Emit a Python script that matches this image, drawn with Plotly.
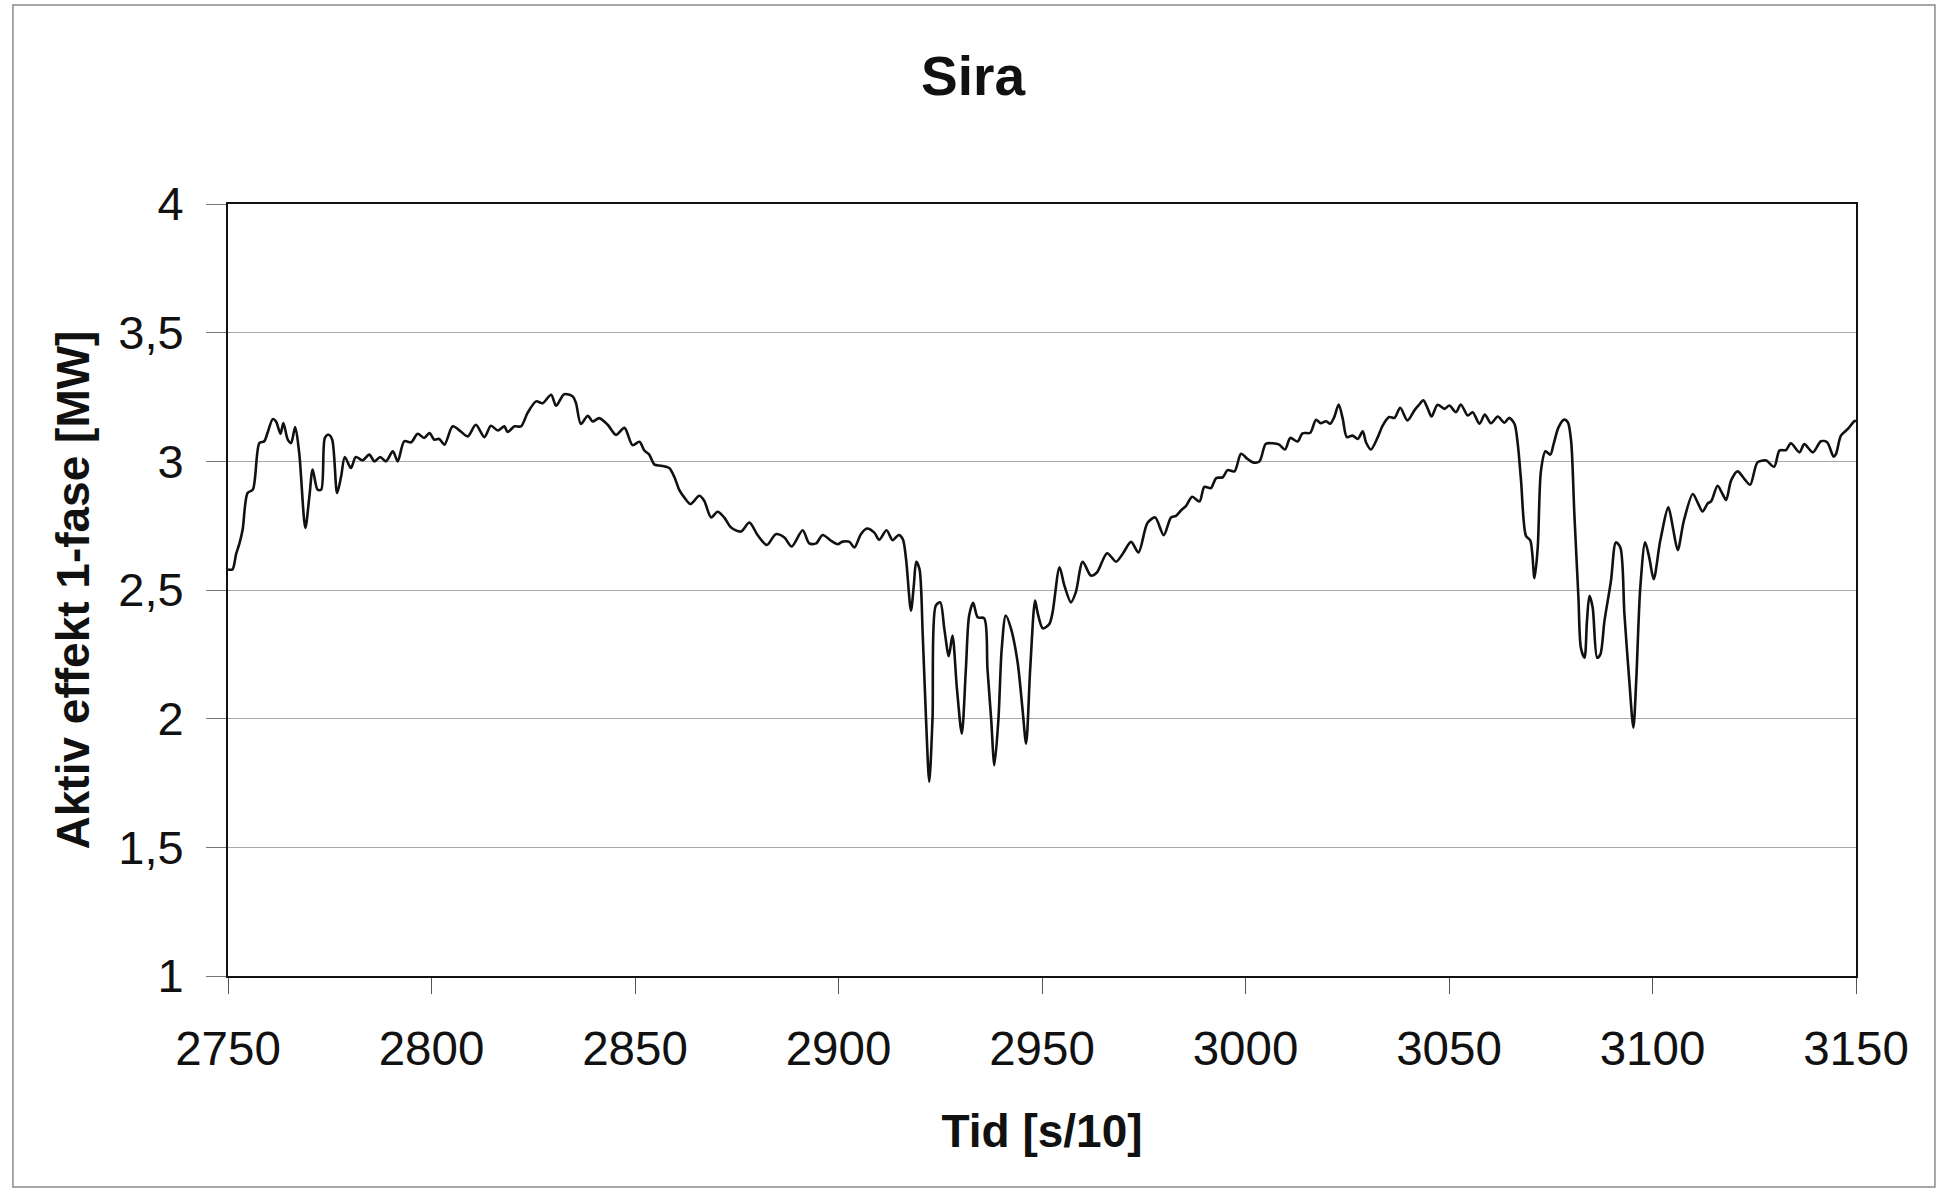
import plotly.graph_objects as go

# ---- data ----
tid = [
    2750.0, 2751.1, 2752.0, 2752.8, 2753.6, 2754.8, 2756.1, 2757.7, 2758.9, 2759.7,
    2761.0, 2761.8, 2762.9, 2763.6, 2764.7, 2765.5, 2766.5, 2767.5, 2769.0, 2770.0,
    2770.8, 2772.0, 2772.9, 2773.8, 2774.7, 2775.6, 2776.8, 2777.8, 2778.7, 2780.2,
    2781.4, 2783.1, 2784.7, 2786.0, 2787.4, 2788.8, 2790.5, 2791.7, 2793.3, 2795.0,
    2796.6, 2798.2, 2799.5, 2800.7, 2801.9, 2803.2, 2805.2, 2807.2, 2808.9, 2810.9,
    2813.0, 2814.6, 2816.3, 2817.9, 2818.7, 2820.4, 2822.0, 2823.6, 2825.7, 2827.3,
    2829.4, 2830.6, 2832.6, 2834.7, 2835.5, 2836.7, 2838.4, 2839.6, 2841.2, 2843.3,
    2845.3, 2847.4, 2849.4, 2851.1, 2852.3, 2853.5, 2854.8, 2856.4, 2858.4, 2859.7,
    2860.9, 2862.1, 2863.6, 2865.8, 2867.0, 2868.7, 2870.3, 2871.9, 2873.6, 2876.0,
    2878.1, 2880.1, 2882.4, 2884.6, 2886.7, 2888.5, 2891.2, 2892.8, 2894.5, 2896.1,
    2898.2, 2899.8, 2901.0, 2902.7, 2903.9, 2905.5, 2907.0, 2908.8, 2910.0, 2911.8,
    2913.3, 2914.8, 2915.8, 2916.6, 2917.8, 2918.5, 2919.1, 2919.9, 2920.7, 2921.5,
    2922.3, 2923.1, 2923.9, 2925.0, 2926.0, 2927.1, 2928.0, 2929.1, 2930.3, 2931.3,
    2932.1, 2933.1, 2934.2, 2935.8, 2936.6, 2937.5, 2938.3, 2939.3, 2940.1, 2941.1,
    2942.4, 2944.0, 2945.2, 2946.1, 2947.1, 2948.3, 2948.9, 2950.2, 2951.8, 2952.6,
    2954.3, 2955.5, 2957.1, 2958.3, 2960.0, 2962.0, 2963.5, 2966.0, 2968.2, 2969.8,
    2971.9, 2973.7, 2975.9, 2977.8, 2979.9, 2981.7, 2982.9, 2984.2, 2985.4, 2986.9,
    2988.7, 2989.9, 2991.5, 2992.8, 2994.4, 2995.6, 2997.3, 2998.9, 3000.5, 3001.8,
    3003.4, 3005.0, 3006.7, 3008.3, 3009.7, 3011.0, 3012.8, 3014.0, 3015.9, 3017.3,
    3018.5, 3019.8, 3020.8, 3021.8, 3022.9, 3023.9, 3024.9, 3026.3, 3027.6, 3028.8,
    3029.6, 3030.8, 3032.5, 3033.7, 3035.3, 3036.6, 3038.0, 3039.8, 3041.5, 3042.5,
    3043.7, 3044.8, 3045.7, 3047.2, 3048.9, 3050.1, 3051.7, 3052.9, 3054.6, 3055.8,
    3057.5, 3058.8, 3060.3, 3062.0, 3063.6, 3064.8, 3066.1, 3066.9, 3067.7, 3068.9,
    3070.0, 3071.0, 3071.8, 3072.6, 3073.7, 3074.9, 3075.7, 3076.9, 3078.3, 3079.2,
    3080.0, 3080.8, 3081.8, 3082.4, 3083.3, 3083.9, 3084.5, 3085.3, 3086.4, 3087.2,
    3088.2, 3089.8, 3091.0, 3092.1, 3093.1, 3094.3, 3095.3, 3096.0, 3097.0, 3098.2,
    3099.2, 3100.3, 3101.9, 3103.9, 3105.0, 3106.2, 3107.7, 3109.9, 3111.1, 3112.3,
    3113.6, 3114.4, 3116.0, 3117.2, 3118.1, 3119.3, 3120.9, 3122.6, 3124.0, 3125.8,
    3127.9, 3129.9, 3131.2, 3132.8, 3134.0, 3136.1, 3137.3, 3139.4, 3141.4, 3142.9,
    3144.5, 3145.1, 3146.3, 3148.0, 3149.6, 3150.0,
]

effekt_mw = [
    2.580, 2.580, 2.640, 2.680, 2.735, 2.877, 2.890, 3.071, 3.078, 3.110,
    3.164, 3.155, 3.107, 3.149, 3.084, 3.071, 3.133, 3.032, 2.741, 2.864,
    2.968, 2.890, 2.890, 3.091, 3.103, 3.084, 2.877, 2.942, 3.017, 2.974,
    3.017, 3.004, 3.026, 3.000, 3.017, 3.000, 3.039, 3.000, 3.078, 3.074,
    3.107, 3.091, 3.110, 3.084, 3.087, 3.065, 3.136, 3.116, 3.097, 3.142,
    3.094, 3.138, 3.120, 3.136, 3.114, 3.136, 3.136, 3.188, 3.233, 3.226,
    3.259, 3.216, 3.261, 3.252, 3.226, 3.145, 3.177, 3.155, 3.168, 3.142,
    3.103, 3.130, 3.063, 3.076, 3.042, 3.026, 2.987, 2.983, 2.974, 2.938,
    2.888, 2.860, 2.834, 2.866, 2.847, 2.782, 2.804, 2.782, 2.743, 2.727,
    2.762, 2.714, 2.675, 2.717, 2.704, 2.669, 2.732, 2.681, 2.681, 2.714,
    2.691, 2.678, 2.688, 2.687, 2.665, 2.717, 2.739, 2.723, 2.695, 2.732,
    2.694, 2.714, 2.698, 2.620, 2.420, 2.517, 2.610, 2.581, 2.323, 2.000,
    1.755, 2.000, 2.439, 2.452, 2.349, 2.243, 2.323, 2.116, 1.942, 2.194,
    2.401, 2.450, 2.394, 2.390, 2.194, 2.000, 1.819, 2.000, 2.271, 2.401,
    2.349, 2.220, 2.039, 1.903, 2.194, 2.459, 2.413, 2.351, 2.368, 2.413,
    2.588, 2.517, 2.452, 2.491, 2.610, 2.556, 2.568, 2.643, 2.610, 2.640,
    2.687, 2.646, 2.760, 2.782, 2.713, 2.782, 2.788, 2.810, 2.827, 2.862,
    2.844, 2.901, 2.896, 2.935, 2.938, 2.966, 2.961, 3.029, 3.009, 2.996,
    2.999, 3.068, 3.070, 3.065, 3.046, 3.091, 3.077, 3.109, 3.111, 3.161,
    3.148, 3.156, 3.146, 3.172, 3.221, 3.165, 3.094, 3.100, 3.087, 3.117,
    3.074, 3.046, 3.094, 3.139, 3.172, 3.169, 3.208, 3.159, 3.198, 3.217,
    3.237, 3.204, 3.174, 3.220, 3.204, 3.217, 3.191, 3.221, 3.178, 3.191,
    3.146, 3.182, 3.148, 3.174, 3.150, 3.169, 3.145, 3.067, 2.925, 2.711,
    2.691, 2.546, 2.665, 2.964, 3.039, 3.026, 3.067, 3.132, 3.162, 3.152,
    3.080, 2.795, 2.471, 2.276, 2.237, 2.380, 2.477, 2.432, 2.237, 2.250,
    2.380, 2.536, 2.685, 2.665, 2.406, 2.147, 1.965, 2.147, 2.510, 2.685,
    2.626, 2.542, 2.691, 2.821, 2.743, 2.655, 2.769, 2.873, 2.840, 2.805,
    2.837, 2.844, 2.905, 2.873, 2.850, 2.925, 2.961, 2.931, 2.909, 2.996,
    3.003, 2.979, 3.042, 3.044, 3.070, 3.035, 3.067, 3.035, 3.078, 3.074,
    3.018, 3.029, 3.100, 3.126, 3.156, 3.158,
]

x_tick_vals = [2750, 2800, 2850, 2900, 2950, 3000, 3050, 3100, 3150]
x_tick_text = ["2750", "2800", "2850", "2900", "2950", "3000", "3050", "3100", "3150"]
y_tick_vals = [1, 1.5, 2, 2.5, 3, 3.5, 4]
y_tick_text = ["1", "1,5", "2", "2,5", "3", "3,5", "4"]

title_text = "Sira"
x_title = "Tid [s/10]"
y_title = "Aktiv effekt 1-fase [MW]"

# ---- figure ----
FONT = "Liberation Sans, Arial, sans-serif"

fig = go.Figure()
fig.add_trace(go.Scatter(
    x=tid, y=effekt_mw, mode="lines",
    line=dict(color="#111111", width=2.6, shape="spline", smoothing=0.8),
    showlegend=False, hoverinfo="x+y",
))

fig.update_layout(
    width=1941, height=1190,
    margin=dict(l=228, r=85, t=204, b=214, autoexpand=False),
    paper_bgcolor="white", plot_bgcolor="white",
    font=dict(family=FONT, color="#111111", size=46),
    title=dict(text=title_text, x=973 / 1941, xanchor="center", y=1 - 76 / 1190,
               yanchor="middle", yref="container", xref="container",
               font=dict(family=FONT, size=55, weight="bold", color="#111111")),
    shapes=[dict(type="rect", xref="paper", yref="paper",
                 x0=-0.1321, x1=1.0485, y0=-0.2733, y1=1.2578,
                 line=dict(color="#8a8a8a", width=1.5), layer="below")],
)

fig.update_xaxes(
    range=[2750, 3150], tickvals=x_tick_vals, ticktext=x_tick_text,
    showgrid=False, zeroline=False,
    showline=True, linecolor="#111111", linewidth=2, mirror=True,
    ticks="outside", ticklen=16, tickwidth=1, tickcolor="#555555",
    ticklabelstandoff=14,
    tickfont=dict(family=FONT, size=47.5, color="#111111"),
    title=dict(text=x_title, standoff=41,
               font=dict(family=FONT, size=46, weight="bold", color="#111111")),
    automargin=False,
)
fig.update_yaxes(
    range=[1, 4], tickvals=y_tick_vals, ticktext=y_tick_text,
    showgrid=True, gridcolor="#a8a8a8", gridwidth=1, zeroline=False,
    showline=True, linecolor="#111111", linewidth=2, mirror=True,
    ticks="outside", ticklen=20, tickwidth=1, tickcolor="#777777",
    ticklabelstandoff=13,
    tickfont=dict(family=FONT, size=47, color="#111111"),
    title=dict(text=y_title, standoff=14,
               font=dict(family=FONT, size=46, weight="bold", color="#111111")),
    automargin=False,
)

fig.write_html("out.html", config={"displayModeBar": False},
               post_script="document.body.style.margin='0';")
